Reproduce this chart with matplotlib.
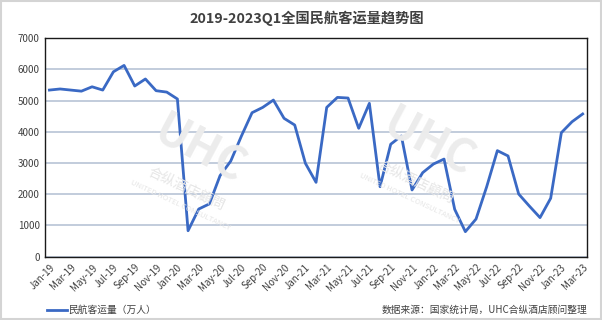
import matplotlib
matplotlib.use("Agg")
import matplotlib.pyplot as plt
from matplotlib.lines import Line2D

plt.rcParams['font.family'] = ['Noto Sans CJK SC', 'DejaVu Sans']

months = []
for y in range(19, 24):
    for m in ['Jan', 'Feb', 'Mar', 'Apr', 'May', 'Jun', 'Jul', 'Aug', 'Sep', 'Oct', 'Nov', 'Dec']:
        months.append(f"{m}-{y}")
months = months[:51]

passengers = [5335, 5370, 5335, 5300, 5440, 5335, 5920, 6125, 5465, 5690, 5315, 5270,
              5050, 830, 1525, 1690, 2595, 3060, 3860, 4610, 4780, 5015, 4430, 4215,
              2990, 2380, 4780, 5100, 5080, 4110, 4910, 2240, 3600, 3865, 2135, 2690,
              2965, 3125, 1515, 800, 1205, 2240, 3395, 3225, 2005, 1620, 1250, 1870,
              3970, 4320, 4570]

title = "2019-2023Q1全国民航客运量趋势图"
series_name = "民航客运量（万人）"
source = "数据来源：国家统计局，UHC合纵酒店顾问整理"
yticks = [0, 1000, 2000, 3000, 4000, 5000, 6000, 7000]

fig = plt.figure(figsize=(6.02, 3.2), dpi=100)
fig.patch.set_facecolor('white')
# outer border
fig.add_artist(plt.Rectangle((0.002, 0.003), 0.996, 0.994, transform=fig.transFigure,
                             fill=False, edgecolor='#d4d4d4', linewidth=1.5))

ax = fig.add_axes([0.075, 0.198, 0.900, 0.683])
x = list(range(len(months)))
ax.plot(x, passengers, color='#3a69c4', linewidth=2.0, zorder=3)
ax.set_xlim(-0.4, len(months) - 0.6)
ax.set_ylim(0, 7000)
ax.set_yticks(yticks)
ax.set_yticklabels([str(v) for v in yticks], fontsize=7, color='#404040')
ax.set_xticks(x[::2])
ax.set_xticklabels(months[::2], rotation=45, ha='right', rotation_mode='anchor',
                   fontsize=7, color='#404040')
ax.tick_params(axis='both', length=0, pad=4)
ax.grid(axis='y', color='#b7c3d6', linewidth=1.2)
ax.set_axisbelow(True)
for s in ax.spines.values():
    s.set_color('#1a1a1a')
    s.set_linewidth(1.0)

# watermarks
for (wx, wy) in [(0.33, 0.53), (0.71, 0.55)]:
    fig.text(wx, wy, "UHC", fontsize=32, fontweight='bold', color='#ececec',
             rotation=-28, ha='center', va='center', zorder=0, style='italic')
    fig.text(wx - 0.02, wy - 0.12, "合纵酒店顧問", fontsize=10, color='#e6e6e6',
             rotation=-25, ha='center', va='center', zorder=0)
    fig.text(wx - 0.03, wy - 0.17, "UNITED HOTEL CONSULTANCY", fontsize=5.5, color='#e6e6e6',
             rotation=-25, ha='center', va='center', zorder=0)

fig.text(0.509, 0.944, title, fontsize=10.3, fontweight='bold', color='#404040',
         ha='center', va='center')

fig.add_artist(Line2D([0.078, 0.111], [0.031, 0.031], transform=fig.transFigure,
                      color='#3a69c4', linewidth=2.0))
fig.text(0.113, 0.032, series_name, fontsize=7, color='#404040', ha='left', va='center')
fig.text(0.975, 0.032, source, fontsize=7, color='#404040', ha='right', va='center')

fig.savefig("out.png", dpi=100, facecolor='white')
